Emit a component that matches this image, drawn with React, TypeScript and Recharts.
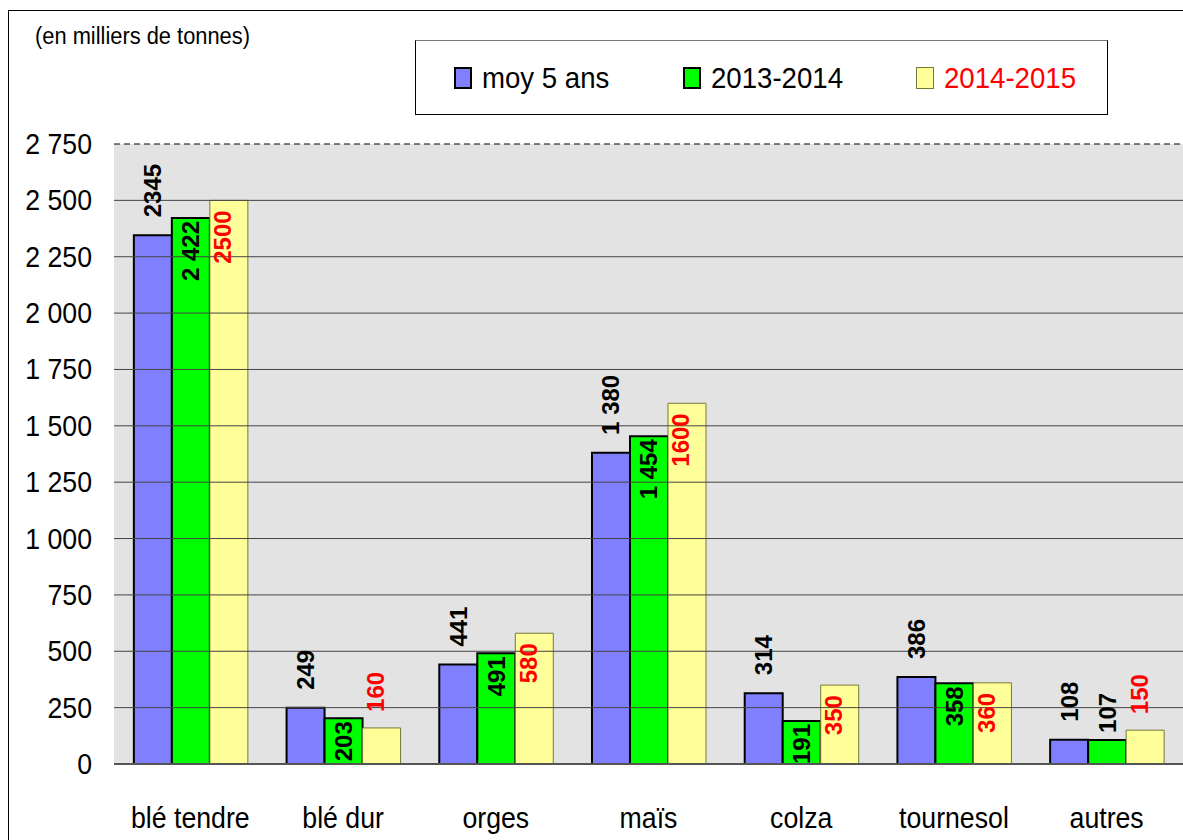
import React from 'react';
import {
  BarChart,
  Bar,
  XAxis,
  YAxis,
  CartesianGrid,
  ReferenceLine,
  LabelList,
} from 'recharts';

const categories = ['blé tendre', 'blé dur', 'orges', 'maïs', 'colza', 'tournesol', 'autres'];
const moy5ans = [2345, 249, 441, 1380, 314, 386, 108];
const campagne1314 = [2422, 203, 491, 1454, 191, 358, 107];
const campagne1415 = [2500, 160, 580, 1600, 350, 360, 150];
// labels as printed on the source chart
const moyLabels = ['2345', '249', '441', '1 380', '314', '386', '108'];
const labels1314 = ['2 422', '203', '491', '1 454', '191', '358', '107'];
const labels1415 = ['2500', '160', '580', '1600', '350', '360', '150'];
const yTicks = [0, 250, 500, 750, 1000, 1250, 1500, 1750, 2000, 2250, 2500, 2750];

const FONT = '"Liberation Sans", Arial, sans-serif';
const LABEL_SIZE = 24;

const series = [
  { key: 'moy', label: 'moyLabel', name: 'moy 5 ans', fill: '#8080ff', stroke: '#000', sw: 2, text: '#000' },
  { key: 'c1314', label: 'c1314Label', name: '2013-2014', fill: '#00ff00', stroke: '#000', sw: 2, text: '#000' },
  { key: 'c1415', label: 'c1415Label', name: '2014-2015', fill: '#ffff99', stroke: '#77773a', sw: 1, text: '#ff0000' },
];

const data = categories.map((name, i) => ({
  name,
  moy: moy5ans[i],
  c1314: campagne1314[i],
  c1415: campagne1415[i],
  moyLabel: moyLabels[i],
  c1314Label: labels1314[i],
  c1415Label: labels1415[i],
}));

const textLen = (s: string) =>
  s.split('').reduce((acc, ch) => acc + (ch === ' ' ? 0.278 : 0.556), 0) * LABEL_SIZE;

const makeLabel = (mode: 'above' | 'inside' | 'insideRed', color: string) => (props: any) => {
  const { x, y, width, height, value } = props;
  const s = String(value);
  const len = textLen(s);
  const top = Number(y);
  const bottom = top + Number(height);
  let cx = Number(x) + Number(width) / 2;
  let ty = top - 18;
  let anchor: 'start' | 'end' = 'start';
  if (mode === 'inside') {
    if (bottom - top >= len + 2) {
      ty = top + 3;
      anchor = 'end';
    } else {
      ty = top - 7;
    }
  } else if (mode === 'insideRed') {
    cx -= 6;
    if (bottom - top >= len + 12) {
      ty = top + 10;
      anchor = 'end';
    } else {
      ty = top - 16;
    }
  }
  return (
    <text
      x={cx}
      y={ty}
      transform={`rotate(-90 ${cx} ${ty})`}
      textAnchor={anchor}
      dominantBaseline="central"
      fill={color}
      fontFamily={FONT}
      fontWeight="bold"
      fontSize={LABEL_SIZE}
    >
      {s}
    </text>
  );
};

const fmt = (v: number) => String(v).replace(/\B(?=(\d{3})+(?!\d))/g, ' ');

// the source uses a slightly condensed face, so squeeze horizontally
const YTick = (props: any) => {
  const { x, y, payload } = props;
  return (
    <text
      transform={`translate(${x - 22} ${y + 10}) scale(0.92 1)`}
      textAnchor="end"
      fontFamily={FONT}
      fontSize={29}
      fill="#000"
    >
      {fmt(payload.value)}
    </text>
  );
};

const XTick = (props: any) => {
  const { x, y, payload } = props;
  return (
    <text
      transform={`translate(${x} ${y + 64}) scale(0.89 1)`}
      textAnchor="middle"
      fontFamily={FONT}
      fontSize={30}
      fill="#000"
    >
      {payload.value}
    </text>
  );
};

const LegendBox = () => (
  <div
    style={{
      position: 'absolute',
      left: 415,
      top: 40,
      boxSizing: 'border-box',
      width: 693,
      height: 75,
      border: '1px solid #000',
      borderTopColor: '#777',
      background: '#fff',
      fontFamily: FONT,
    }}
  >
    {series.map((s, i) => (
      <div
        key={s.key}
        style={{ position: 'absolute', left: [38, 267, 500][i], top: 0, height: 73, display: 'flex', alignItems: 'center' }}
      >
        <div
          style={{
            boxSizing: 'border-box',
            width: 18,
            height: 22,
            background: s.fill,
            border: `${s.sw === 2 ? 2 : 1.5}px solid ${s.stroke}`,
            marginRight: 10,
          }}
        />
        <span
          style={{
            fontSize: 30,
            color: s.text,
            lineHeight: '30px',
            whiteSpace: 'nowrap',
            display: 'inline-block',
            transform: 'scaleX(0.92)',
            transformOrigin: 'left center',
          }}
        >
          {s.name}
        </span>
      </div>
    ))}
  </div>
);

export default function App() {
  return (
    <div style={{ position: 'relative', width: 1183, height: 840, overflow: 'hidden', background: '#fff' }}>
      <style>{'body{margin:0;overflow:hidden;}'}</style>
      <div
        style={{
          position: 'absolute',
          left: 8,
          top: 10,
          width: 1200,
          height: 900,
          borderLeft: '1.5px solid #000',
          borderTop: '1.5px solid #000',
        }}
      />
      <div
        style={{
          position: 'absolute',
          left: 35,
          top: 23,
          fontFamily: FONT,
          fontSize: 23,
          color: '#000',
          transform: 'scaleX(0.95)',
          transformOrigin: 'left center',
          whiteSpace: 'nowrap',
        }}
      >
        (en milliers de tonnes)
      </div>
      <LegendBox />
      <div style={{ position: 'absolute', left: 0, top: 0 }}>
        <BarChart
          width={1183}
          height={840}
          data={data}
          margin={{ top: 144, right: 0, bottom: 16, left: 14 }}
          barCategoryGap="13%"
          barGap={0}
        >
          <CartesianGrid horizontal={false} vertical={false} fill="#e3e3e3" />
          {yTicks.slice(1, -1).map((v) => (
            <ReferenceLine key={v} y={v} stroke="#444" strokeWidth={1} />
          ))}
          <ReferenceLine y={2750} stroke="#000" strokeWidth={1} strokeDasharray="6 4" />
          <XAxis
            dataKey="name"
            height={60}
            tickLine={false}
            tickSize={0}
            tickMargin={0}
            axisLine={{ stroke: '#555', strokeWidth: 2 }}
            tick={<XTick />}
            interval={0}
          />
          <YAxis
            width={100}
            domain={[0, 2750]}
            ticks={yTicks}
            interval={0}
            axisLine={false}
            tickLine={false}
            tickSize={0}
            tickMargin={0}
            tick={<YTick />}
          />
          {series.map((s, i) => (
            <Bar
              key={s.key}
              dataKey={s.key}
              name={s.name}
              fill={s.fill}
              stroke={s.stroke}
              strokeWidth={s.sw}
              isAnimationActive={false}
            >
              <LabelList
                dataKey={s.label}
                content={makeLabel(i === 0 ? 'above' : i === 1 ? 'inside' : 'insideRed', s.text)}
              />
            </Bar>
          ))}
        </BarChart>
      </div>
    </div>
  );
}
